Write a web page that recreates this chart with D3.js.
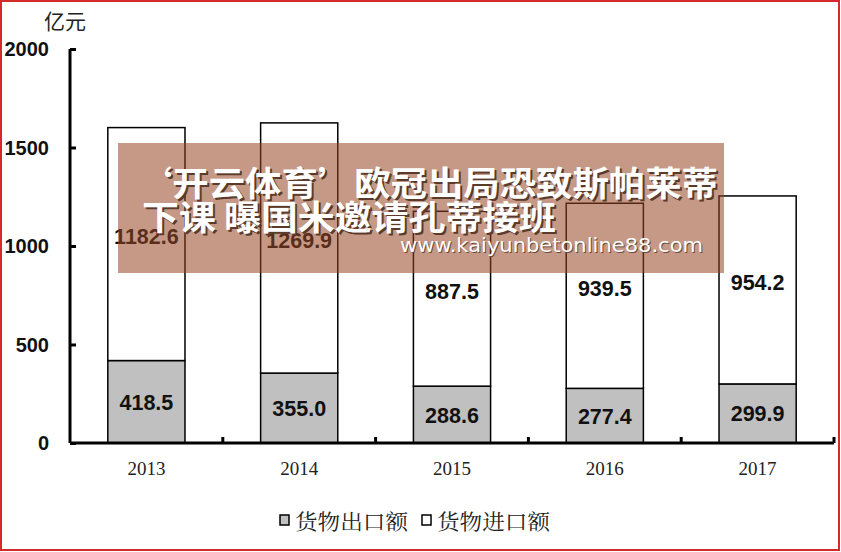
<!DOCTYPE html>
<html>
<head>
<meta charset="utf-8">
<script src="https://cdn.jsdelivr.net/npm/d3@7"></script>
<style>
  html, body { margin: 0; padding: 0; background: #fff; }
  svg { display: block; }
</style>
</head>
<body>
<svg id="chart"></svg>
<script>
const years = ["2013", "2014", "2015", "2016", "2017"];
const exportVals = [418.5, 355.0, 288.6, 277.4, 299.9];
const importVals = [1182.6, 1269.9, 887.5, 939.5, 954.2];
const yTicks = [0, 500, 1000, 1500, 2000];
const seriesNames = ["货物出口额", "货物进口额"];

let width = 841;
let height = 552;

const svg = d3.select("#chart")
  .attr("width", width)
  .attr("height", height);

// frame
svg.append("rect")
  .attr("x", 1).attr("y", 1)
  .attr("width", width - 3).attr("height", height - 3)
  .attr("fill", "#fff")
  .attr("stroke", "#d42a2a")
  .attr("stroke-width", 2);

const xScale = d3.scaleBand()
  .domain(years)
  .range([70, 834])
  .paddingInner(0)
  .paddingOuter(0);

const yScale = d3.scaleLinear()
  .domain([0, 2000])
  .range([443, 49]);

const barW = xScale.bandwidth() * 0.505;

const stacked = years.map((y, i) => ({
  year: y,
  exp: exportVals[i],
  imp: importVals[i]
}));

// bars: exports (grey, bottom)
svg.selectAll("rect.exp")
  .data(stacked)
  .enter()
  .append("rect")
  .attr("class", "exp")
  .attr("x", (d) => xScale(d.year) + (xScale.bandwidth() - barW) / 2)
  .attr("y", (d) => yScale(d.exp))
  .attr("width", barW)
  .attr("height", (d) => yScale(0) - yScale(d.exp))
  .attr("fill", "#c0c0c0")
  .attr("stroke", "#000")
  .attr("stroke-width", 1.5);

// bars: imports (white, top)
svg.selectAll("rect.imp")
  .data(stacked)
  .enter()
  .append("rect")
  .attr("class", "imp")
  .attr("x", (d) => xScale(d.year) + (xScale.bandwidth() - barW) / 2)
  .attr("y", (d) => yScale(d.exp + d.imp))
  .attr("width", barW)
  .attr("height", (d) => yScale(d.exp) - yScale(d.exp + d.imp))
  .attr("fill", "#fff")
  .attr("stroke", "#000")
  .attr("stroke-width", 1.5);

// value labels
const labelFont = "bold 21.5px 'Liberation Sans', Arial, sans-serif";
svg.selectAll("text.expLabel")
  .data(stacked)
  .enter()
  .append("text")
  .attr("x", (d) => xScale(d.year) + xScale.bandwidth() / 2)
  .attr("y", (d) => (yScale(0) + yScale(d.exp)) / 2 + 8)
  .attr("text-anchor", "middle")
  .style("font", labelFont)
  .attr("fill", "#111")
  .text((d) => d.exp.toFixed(1));

svg.selectAll("text.impLabel")
  .data(stacked)
  .enter()
  .append("text")
  .attr("x", (d) => xScale(d.year) + xScale.bandwidth() / 2)
  .attr("y", (d) => (yScale(d.exp) + yScale(d.exp + d.imp)) / 2)
  .attr("text-anchor", "middle")
  .style("font", labelFont)
  .attr("fill", "#111")
  .text((d) => d.imp.toFixed(1));

// y axis
const yAxis = d3.axisRight(yScale)
  .tickValues(yTicks)
  .tickSize(6)
  .tickFormat("");
const yg = svg.append("g")
  .attr("transform", "translate(70, 0)")
  .call(yAxis);
yg.select(".domain").attr("stroke", "#000").attr("stroke-width", 3)
  .attr("d", `M0,${yScale(2000)}V${yScale(0)}`);
yg.selectAll(".tick line").attr("stroke", "#000").attr("stroke-width", 3);

svg.selectAll("text.ytick")
  .data(yTicks)
  .enter()
  .append("text")
  .attr("x", 49)
  .attr("y", (d) => yScale(d) + 7)
  .attr("text-anchor", "end")
  .style("font", "bold 20px 'Liberation Sans', Arial, sans-serif")
  .attr("fill", "#111")
  .text((d) => d);

// x axis
const xg = svg.append("g")
  .attr("transform", `translate(0, ${yScale(0)})`);
xg.append("line")
  .attr("x1", 70).attr("x2", 834)
  .attr("stroke", "#000").attr("stroke-width", 3);
xg.selectAll("line.tick")
  .data(years.slice(1).concat(["end"]))
  .enter()
  .append("line")
  .attr("x1", (d) => d === "end" ? 834 : xScale(d))
  .attr("x2", (d) => d === "end" ? 834 : xScale(d))
  .attr("y1", 0).attr("y2", -6)
  .attr("stroke", "#000").attr("stroke-width", 3);

svg.selectAll("text.xlab")
  .data(years)
  .enter()
  .append("text")
  .attr("x", (d) => xScale(d) + xScale.bandwidth() / 2)
  .attr("y", 475)
  .attr("text-anchor", "middle")
  .style("font", "19px 'Liberation Serif', 'Times New Roman', serif")
  .attr("fill", "#222")
  .text((d) => d);

// unit
svg.append("text")
  .attr("x", 44).attr("y", 29)
  .style("font", "21px 'Noto Sans CJK SC', sans-serif")
  .attr("fill", "#222")
  .text("亿元");

// legend
const legend = svg.append("g");
const legendItems = [
  { name: seriesNames[0], fill: "#c0c0c0", x: 280 },
  { name: seriesNames[1], fill: "#fff", x: 422 }
];
legendItems.forEach((it) => {
  legend.append("rect")
    .attr("x", it.x).attr("y", 515)
    .attr("width", 9).attr("height", 10)
    .attr("fill", it.fill)
    .attr("stroke", "#000").attr("stroke-width", 1.5);
  legend.append("text")
    .attr("x", it.x + 15).attr("y", 529)
    .attr("textLength", 113)
    .attr("lengthAdjust", "spacingAndGlyphs")
    .style("font", "21px 'Noto Serif CJK SC', 'Noto Sans CJK SC', serif")
    .attr("fill", "#222")
    .text(it.name);
});

// overlay banner
svg.append("rect")
  .attr("x", 118).attr("y", 143)
  .attr("width", 606).attr("height", 130)
  .attr("fill", "rgba(150,70,35,0.55)");

const bannerFont = "bold 34px 'Noto Sans CJK SC', sans-serif";
const bannerLines = [
  { t: "‘开云体育’欧冠出局恐致斯帕莱蒂", x: 136, y: 196, w: 582 },
  { t: "下课 曝国米邀请孔蒂接班", x: 142, y: 230, w: 414 }
];
bannerLines.forEach((l) => {
  [[2, 2, "#5a3a2a"], [0, 0, "#fff"]].forEach(([dx, dy, c]) => {
    svg.append("text")
      .attr("x", l.x + dx).attr("y", l.y + dy)
      .attr("textLength", l.w)
      .attr("lengthAdjust", "spacingAndGlyphs")
      .style("font", bannerFont)
      .attr("fill", c)
      .text(l.t);
  });
});
[[1, 1, "#6a4a3a"], [0, 0, "#fff"]].forEach(([dx, dy, c]) => {
  svg.append("text")
    .attr("x", 400 + dx).attr("y", 252 + dy)
    .attr("textLength", 303)
    .attr("lengthAdjust", "spacingAndGlyphs")
    .style("font", "20px 'DejaVu Sans', sans-serif")
    .attr("fill", c)
    .text("www.kaiyunbetonline88.com");
});
</script>
</body>
</html>
